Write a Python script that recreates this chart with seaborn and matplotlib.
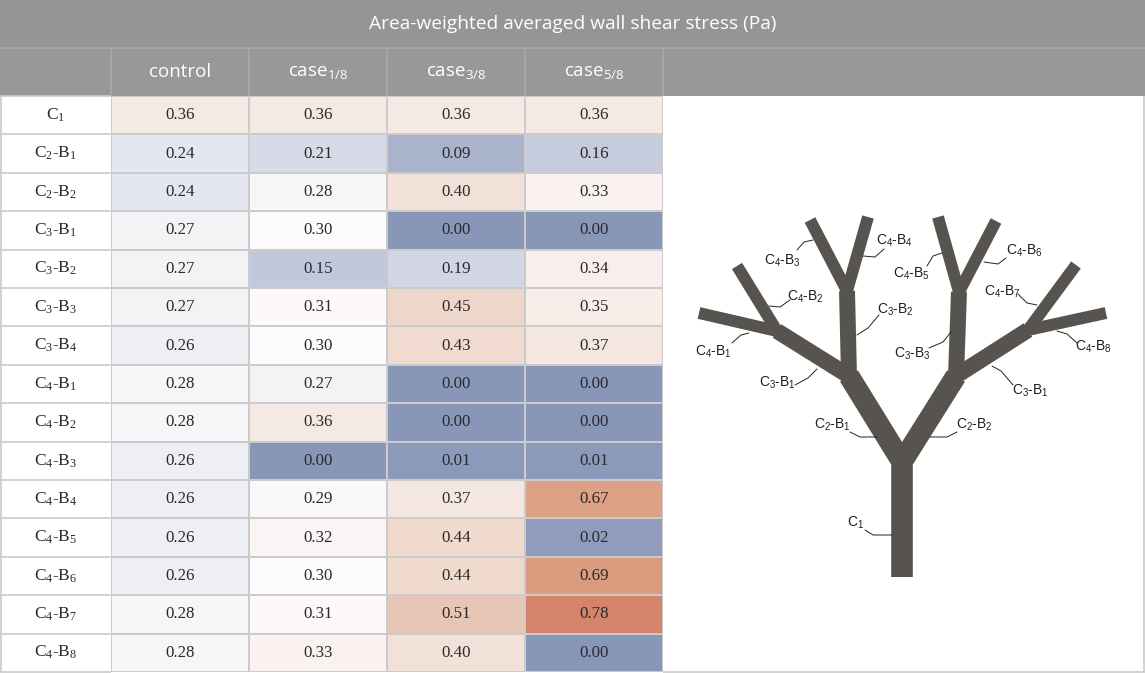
import numpy as np
import pandas as pd
import matplotlib
matplotlib.use("Agg")
import matplotlib.pyplot as plt
import seaborn as sns
from matplotlib.colors import LinearSegmentedColormap
from matplotlib.patches import Rectangle

# ---------------- data ----------------
title = "Area-weighted averaged wall shear stress (Pa)"
segments = ["C$_1$", "C$_2$-B$_1$", "C$_2$-B$_2$", "C$_3$-B$_1$", "C$_3$-B$_2$",
            "C$_3$-B$_3$", "C$_3$-B$_4$", "C$_4$-B$_1$", "C$_4$-B$_2$", "C$_4$-B$_3$",
            "C$_4$-B$_4$", "C$_4$-B$_5$", "C$_4$-B$_6$", "C$_4$-B$_7$", "C$_4$-B$_8$"]
columns = ["control", "case$_{1/8}$", "case$_{3/8}$", "case$_{5/8}$"]
control = [0.36, 0.24, 0.24, 0.27, 0.27, 0.27, 0.26, 0.28, 0.28, 0.26, 0.26, 0.26, 0.26, 0.28, 0.28]
case_1_8 = [0.36, 0.21, 0.28, 0.30, 0.15, 0.31, 0.30, 0.27, 0.36, 0.00, 0.29, 0.32, 0.30, 0.31, 0.33]
case_3_8 = [0.36, 0.09, 0.40, 0.00, 0.19, 0.45, 0.43, 0.00, 0.00, 0.01, 0.37, 0.44, 0.44, 0.51, 0.40]
case_5_8 = [0.36, 0.16, 0.33, 0.00, 0.34, 0.35, 0.37, 0.00, 0.00, 0.01, 0.67, 0.02, 0.69, 0.78, 0.00]

# schematic of the branching tree (pixel space of the right panel)
tree_nodes = {
    "root": (902, 577), "n1": (902, 462),
    "L": (849, 376), "R": (956, 376),
    "LL": (777, 331), "LR": (847, 291), "RL": (959, 292), "RR": (1028, 330),
    "B1": (699, 313), "B2": (737, 266), "B3": (810, 220), "B4": (868, 217),
    "B5": (938, 217), "B6": (996, 221), "B7": (1076, 265), "B8": (1106, 313),
}
tree_paths = [
    (["root", "n1", "L"], 15.2), (["root", "n1", "R"], 15.2),
    (["n1", "L", "LL"], 11.5), (["n1", "L", "LR"], 11.5),
    (["n1", "R", "RL"], 11.5), (["n1", "R", "RR"], 11.5),
    (["L", "LL", "B1"], 8.6), (["L", "LL", "B2"], 8.6),
    (["L", "LR", "B3"], 8.6), (["L", "LR", "B4"], 8.6),
    (["R", "RL", "B5"], 8.6), (["R", "RL", "B6"], 8.6),
    (["R", "RR", "B7"], 8.6), (["R", "RR", "B8"], 8.6),
]
tree_labels = [
    ("C$_4$-B$_3$", (782, 261), [(797, 250), (804, 242), (813, 240)]),
    ("C$_4$-B$_4$", (895, 241), [(884, 249), (875, 257), (863, 256)]),
    ("C$_4$-B$_2$", (805, 297), [(790, 300), (780, 307), (769, 306)]),
    ("C$_3$-B$_2$", (895, 310), [(879, 315), (868, 328), (857, 335)]),
    ("C$_4$-B$_1$", (713, 352), [(732, 343), (741, 335), (749, 333)]),
    ("C$_3$-B$_1$", (777, 383), [(795, 385), (808, 378), (817, 369)]),
    ("C$_4$-B$_5$", (912, 274), [(927, 266), (933, 256), (942, 253)]),
    ("C$_4$-B$_6$", (1025, 251), [(1006, 258), (998, 264), (984, 262)]),
    ("C$_4$-B$_7$", (1002, 292), [(1018, 294), (1027, 303), (1037, 305)]),
    ("C$_3$-B$_3$", (912, 354), [(929, 348), (943, 342), (951, 332)]),
    ("C$_4$-B$_8$", (1093, 347), [(1077, 343), (1067, 334), (1057, 331)]),
    ("C$_3$-B$_1$", (1030, 391), [(1013, 385), (1001, 371), (992, 366)]),
    ("C$_2$-B$_1$", (832, 425), [(850, 432), (860, 437), (877, 437)]),
    ("C$_2$-B$_2$", (974, 425), [(957, 432), (947, 437), (930, 437)]),
    ("C$_1$", (856, 523), [(865, 530), (873, 535), (892, 535)]),
]

# ---------------- style ----------------
sns.set_theme(style="white")
plt.rcParams["font.family"] = ["Liberation Serif", "DejaVu Serif"]
plt.rcParams["mathtext.default"] = "regular"

cmap_stops = [
    (0.00, "#8896b8"), (0.09, "#aab3cc"), (0.16, "#c6cbdd"), (0.21, "#d8dce8"),
    (0.24, "#e5e8f0"), (0.27, "#f3f3f6"), (0.30, "#fdfcfc"), (0.36, "#f5e9e4"),
    (0.44, "#f0d9cd"), (0.51, "#e8c6b6"), (0.67, "#dca184"), (0.78, "#d4846a"),
]
vmax = 0.78
cmap = LinearSegmentedColormap.from_list(
    "wss", [(v / vmax, c) for v, c in cmap_stops])

W, H = 1145, 673
fig = plt.figure(figsize=(W / 100, H / 100), dpi=100)
bg = fig.add_axes([0, 0, 1, 1])
bg.set_xlim(0, W)
bg.set_ylim(H, 0)
bg.axis("off")

title_bottom, header_bottom, table_bottom = 48, 96, 672
label_right, table_right = 111, 663
grid_color = "#cbcbcb"

# title and header bands
bg.add_patch(Rectangle((0, 0), W, title_bottom, color="#959595", lw=0))
bg.add_patch(Rectangle((0, title_bottom), W, header_bottom - title_bottom,
                       color="#989898", lw=0))
bg.hlines(title_bottom, 0, W, color="#a9a9a9", lw=1.2)
bg.text(W / 2, title_bottom / 2, title, ha="center", va="center",
        color="white", fontsize=13.8, family=["Open Sans", "DejaVu Sans"])
col_edges = np.linspace(label_right, table_right, len(columns) + 1)
bg.vlines(col_edges, title_bottom, header_bottom, color="#a9a9a9", lw=1.2)

# row label column grid
row_edges = np.linspace(header_bottom, table_bottom, len(segments) + 1)
bg.hlines(row_edges, 0, label_right, color=grid_color, lw=1.2)
bg.vlines(0.8, header_bottom, table_bottom, color=grid_color, lw=1.2)
# right panel border
bg.vlines(W - 1, header_bottom, table_bottom, color=grid_color, lw=1.2)
bg.hlines(table_bottom, table_right, W, color=grid_color, lw=1.2)

# heatmap table
df = pd.DataFrame({columns[0]: control, columns[1]: case_1_8,
                   columns[2]: case_3_8, columns[3]: case_5_8}, index=segments)
hax = fig.add_axes([label_right / W, 1 - table_bottom / H,
                    (table_right - label_right) / W,
                    (table_bottom - header_bottom) / H])
sns.heatmap(df, ax=hax, cmap=cmap, vmin=0, vmax=vmax, annot=True, fmt=".2f",
            cbar=False, linewidths=1.2, linecolor=grid_color,
            annot_kws={"fontsize": 12.2, "color": "#2a2a2a",
                       "family": ["Liberation Serif", "DejaVu Serif"]})
hax.set_xlabel("")
hax.set_ylabel("")
hax.xaxis.tick_top()
hax.set_xticklabels(columns, rotation=0, color="white", fontsize=13.5,
                    family=["Open Sans", "DejaVu Sans"], va="center")
hax.tick_params(axis="x", length=0, pad=17.3)
hax.set_yticklabels(segments, rotation=0, ha="center", fontsize=12.5,
                    color="#2a2a2a")
hax.tick_params(axis="y", length=0, pad=40)

# tree schematic
tree_color = "#57534f"
for names, width in tree_paths:
    xs = [tree_nodes[n][0] for n in names]
    ys = [tree_nodes[n][1] for n in names]
    bg.plot(xs, ys, color=tree_color, lw=width, solid_capstyle="butt",
            solid_joinstyle="miter")
for label, (tx, ty), leader in tree_labels:
    bg.plot([p[0] for p in leader], [p[1] for p in leader],
            color="#222222", lw=0.7)
    bg.text(tx, ty, label, ha="center", va="center", fontsize=10,
            color="#1e1e1e", family=["Liberation Sans", "DejaVu Sans"])

fig.savefig("out.png", dpi=100)
